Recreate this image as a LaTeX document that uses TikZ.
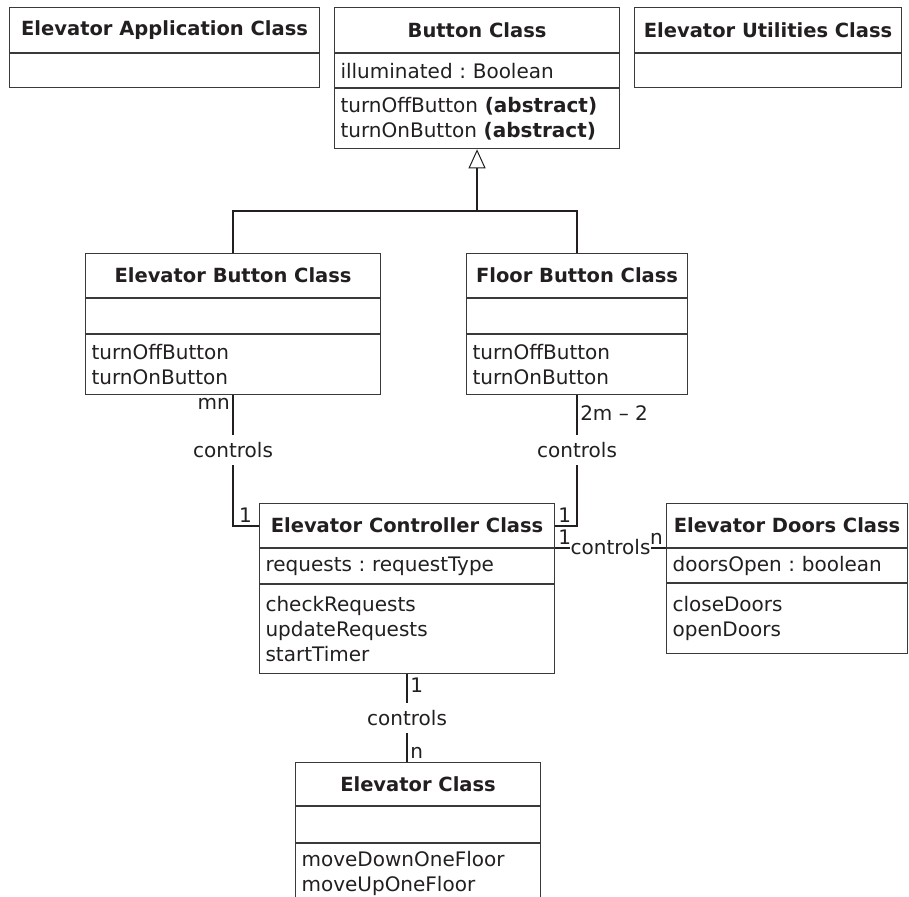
\documentclass[tikz,border=0pt]{standalone}
\usepackage{fontspec}
\setmainfont{DejaVu Sans}
\frenchspacing
\usetikzlibrary{arrows.meta, positioning}
\definecolor{ink}{HTML}{231F20}
\definecolor{rule}{HTML}{3A3A3A}

\begin{document}
\begin{tikzpicture}[
    x=1pt, y=-1pt,
    every node/.style={text=ink},
    font=\fontsize{20}{25}\selectfont,
    classname/.style={draw=rule, line width=1.1pt, anchor=north west,
      inner sep=0pt, font=\fontsize{19.5}{25}\selectfont\bfseries},
    compart/.style={draw=rule, line width=1.1pt, anchor=north, align=left,
      inner xsep=6pt, inner ysep=2pt},
    conn/.style={draw=ink, line width=2pt},
    lbl/.style={inner sep=3pt},
    cut/.style={fill=white, inner xsep=2pt, inner ysep=7pt},
  ]

  % Frame
  \useasboundingbox (0,0) rectangle (909,896);
  \clip (0,0) rectangle (909,896);

  % === Top row ===
  \node[classname, minimum width=310pt, minimum height=45pt] (app) at (9,7)
    {Elevator Application Class};
  \node[compart, text width=298pt, minimum height=34pt, below=0pt of app] (app-a) {};

  \node[classname, minimum width=285pt, minimum height=45pt] (btn) at (334,7)
    {Button Class};
  \node[compart, text width=273pt, minimum height=34pt, below=0pt of btn] (btn-a)
    {illuminated : Boolean};
  \node[compart, text width=273pt, minimum height=60pt, below=0pt of btn-a] (btn-o)
    {turnOffButton \textbf{(abstract)}\\turnOnButton \textbf{(abstract)}};

  \node[classname, minimum width=267pt, minimum height=45pt] (util) at (634,7)
    {Elevator Utilities Class};
  \node[compart, text width=255pt, minimum height=34pt, below=0pt of util] (util-a) {};

  % === Button subclasses ===
  \node[classname, minimum width=295pt, minimum height=44pt] (elbtn) at (85,253)
    {Elevator Button Class};
  \node[compart, text width=283pt, minimum height=35pt, below=0pt of elbtn] (elbtn-a) {};
  \node[compart, text width=283pt, minimum height=60pt, below=0pt of elbtn-a] (elbtn-o)
    {turnOffButton\\turnOnButton};

  \node[classname, minimum width=221pt, minimum height=44pt] (flbtn) at (466,253)
    {Floor Button Class};
  \node[compart, text width=209pt, minimum height=35pt, below=0pt of flbtn] (flbtn-a) {};
  \node[compart, text width=209pt, minimum height=60pt, below=0pt of flbtn-a] (flbtn-o)
    {turnOffButton\\turnOnButton};

  % === Controller and doors ===
  \node[classname, minimum width=295pt, minimum height=44pt] (ctrl) at (259,503)
    {Elevator Controller Class};
  \node[compart, text width=283pt, minimum height=35pt, below=0pt of ctrl] (ctrl-a)
    {requests : requestType};
  \node[compart, text width=283pt, minimum height=89pt, below=0pt of ctrl-a] (ctrl-o)
    {checkRequests\\updateRequests\\startTimer};

  \node[classname, minimum width=241pt, minimum height=44pt] (doors) at (666,503)
    {Elevator Doors Class};
  \node[compart, text width=229pt, minimum height=34pt, below=0pt of doors] (doors-a)
    {doorsOpen : boolean};
  \node[compart, text width=229pt, minimum height=70pt, below=0pt of doors-a] (doors-o)
    {closeDoors\\openDoors};

  % === Elevator ===
  \node[classname, minimum width=245pt, minimum height=43pt] (elev) at (295,762)
    {Elevator Class};
  \node[compart, text width=233pt, minimum height=36pt, below=0pt of elev] (elev-a) {};
  \node[compart, text width=233pt, minimum height=60pt, below=0pt of elev-a] (elev-o)
    {moveDownOneFloor\\moveUpOneFloor};

  % Generalization
  \path (btn-o.south) ++(0,62) coordinate (fork);
  \draw[conn] (elbtn.north) |- (fork) -| (flbtn.north);
  \draw[conn, -{Triangle[open, length=19pt, width=17pt, line width=1pt]}]
    (fork) -- (btn-o.south);

  % Associations
  \draw[conn] (elbtn-o.south) |- (ctrl.west) node[cut, pos=0.21] {controls};
  \node[lbl, anchor=north east] at (elbtn-o.south) {mn};
  \node[lbl, anchor=south east, xshift=-4pt] at (ctrl.west) {1};

  \draw[conn] (flbtn-o.south) |- (ctrl.east) node[cut, pos=0.21] {controls};
  \node[lbl, anchor=north west, yshift=-7pt] at (flbtn-o.south) {2m – 2};
  \node[lbl, anchor=south west] at (ctrl.east) {1};

  \draw[conn] (ctrl.south east) -- (doors.south west)
    node[fill=white, inner xsep=1pt, inner ysep=1pt, midway, yshift=1pt] {controls};
  \node[lbl, anchor=south west] at (ctrl.south east) {1};
  \node[lbl, anchor=south east] at (doors.south west) {n};

  \draw[conn] (ctrl-o.south) -- (ctrl-o.south |- elev.north)
    node[cut, midway] {controls};
  \node[lbl, anchor=north west] at (ctrl-o.south) {1};
  \node[lbl, anchor=south west] at (ctrl-o.south |- elev.north) {n};

\end{tikzpicture}
\end{document}
